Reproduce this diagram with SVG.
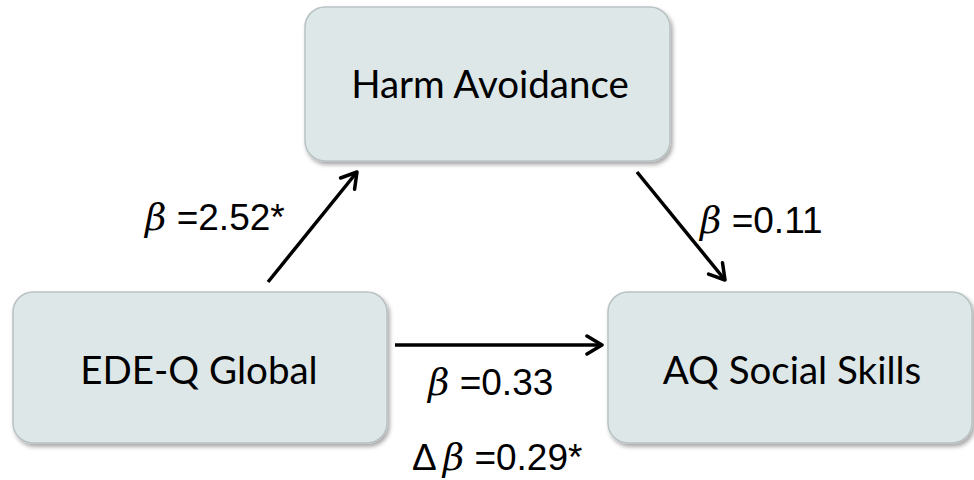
<svg xmlns="http://www.w3.org/2000/svg" width="974" height="480" viewBox="0 0 974 480">
  <defs>
    <filter id="sh" x="-10%" y="-10%" width="120%" height="130%">
      <feDropShadow dx="2" dy="3" stdDeviation="2" flood-color="#000" flood-opacity="0.35"/>
    </filter>
    <marker id="ah" viewBox="0 0 22 22" refX="19" refY="11" markerWidth="22" markerHeight="22" markerUnits="userSpaceOnUse" orient="auto">
      <path d="M4,2 L19,11 L4,20" fill="none" stroke="#000" stroke-width="3.5" stroke-linecap="round" stroke-linejoin="round"/>
    </marker>
    <style>
      .box { fill: #dde7e8; stroke: #b9c2c3; stroke-width: 1.5; filter: url(#sh); }
      .nt { font-family: Lato, "Noto Sans", sans-serif; font-size: 38.5px; fill: #000; text-anchor: middle; }
      .lb { font-family: "Liberation Sans", Arial, sans-serif; font-size: 37px; fill: #000; }
      .gr { font-style: italic; font-family: "DejaVu Serif", "Liberation Serif", serif; }
      .ar { stroke: #000; stroke-width: 3.5; fill: none; marker-end: url(#ah); }
    </style>
  </defs>
  <rect width="974" height="480" fill="#fff"/>
  <g id="harm">
    <rect class="box" x="305" y="7" width="365" height="154" rx="20"/>
    <text class="nt" x="490" y="98">Harm Avoidance</text>
  </g>
  <g id="edeq">
    <rect class="box" x="13" y="292" width="374" height="151" rx="20"/>
    <text class="nt" x="199" y="384">EDE-Q Global</text>
  </g>
  <g id="aq">
    <rect class="box" x="608" y="292" width="364" height="151" rx="20"/>
    <text class="nt" x="792" y="384">AQ Social Skills</text>
  </g>
  <g id="connectors">
    <line class="ar" x1="268" y1="282" x2="357" y2="172"/>
    <line class="ar" x1="637" y1="172" x2="725" y2="280"/>
    <line class="ar" x1="395" y1="345" x2="602" y2="345"/>
  </g>
  <g id="labels">
    <text class="lb" x="145" y="230"><tspan class="gr">β</tspan> =2.52*</text>
    <text class="lb" x="700" y="233"><tspan class="gr">β</tspan> =0.11</text>
    <text class="lb" x="428" y="395"><tspan class="gr">β</tspan> =0.33</text>
    <text class="lb" x="412" y="470">Δ<tspan class="gr" dx="6">β</tspan> =0.29*</text>
  </g>
</svg>
